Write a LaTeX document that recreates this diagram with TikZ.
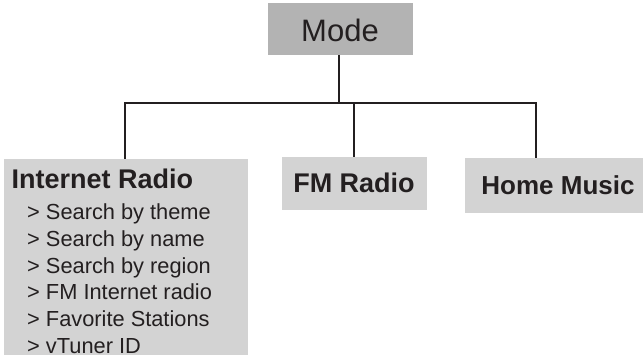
\documentclass[tikz,border=0pt]{standalone}
\usepackage{fontspec}
\setmainfont{Liberation Sans}
\definecolor{ink}{HTML}{231F20}
\definecolor{modegray}{HTML}{B3B3B3}
\definecolor{boxgray}{HTML}{D3D3D3}
\begin{document}
\begin{tikzpicture}[x=1pt,y=-1pt,
  box/.style={fill=boxgray, draw=none, inner sep=0pt, anchor=north west},
  conn/.style={draw=ink, line width=2pt},
  txt/.style={text=ink, inner sep=0pt},
  item/.style={txt, anchor=base west, font=\fontsize{21.8}{22}\selectfont}]
\useasboundingbox (0,0) rectangle (643,358);
% boxes
\node[box, fill=modegray, minimum width=145pt, minimum height=52pt] (mode) at (268,3) {};
\node[box, minimum width=244pt, minimum height=196pt] (ir) at (4,159) {};
\node[box, minimum width=145pt, minimum height=53pt] (fm) at (282,157) {};
\node[box, minimum width=178pt, minimum height=55pt] (home) at (465,158) {};
% texts
\node[txt, anchor=base, font=\fontsize{31}{31}\selectfont] (modet) at (340,42) {Mode};
\node[txt, anchor=base west, font=\bfseries\fontsize{27}{27}\selectfont] (irt) at (11.5,188.5) {Internet Radio};
\node[item] (i1) at (27,220) {> Search by theme};
\node[item] (i2) at (27,246.6) {> Search by name};
\node[item] (i3) at (27,273.2) {> Search by region};
\node[item] (i4) at (27,299.8) {> FM Internet radio};
\node[item] (i5) at (27,326.4) {> Favorite Stations};
\node[item] (i6) at (27,353) {> vTuner ID};
\node[txt, anchor=base, font=\bfseries\fontsize{27}{27}\selectfont] (fmt) at (354,193) {FM Radio};
\node[txt, anchor=base, font=\bfseries\fontsize{26}{26}\selectfont] (homet) at (558,195) {Home Music};
% connectors
\coordinate (jL) at (125,103);
\coordinate (jF) at (354,103);
\coordinate (jH) at (536,103);
\coordinate (jM) at (339,103);
\draw[conn] (mode.south -| jM) -- (jM);
\draw[conn] (ir.north -| jL) -- (jL) -- (jH) -- (jH |- home.north);
\draw[conn] (jF) -- (jF |- fm.north);
\end{tikzpicture}
\end{document}
